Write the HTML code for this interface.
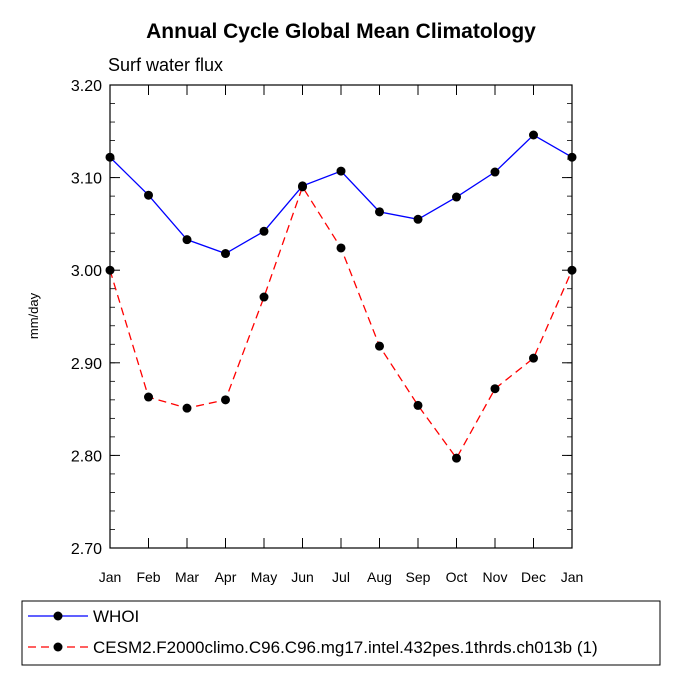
<!DOCTYPE html>
<html><head><meta charset="utf-8"><style>
body{margin:0;background:#fff}
svg{display:block;font-family:"Liberation Sans",Arial,sans-serif}
</style></head><body>
<svg id="chart" width="682" height="682" viewBox="0 0 682 682">
<text x="341" y="38" text-anchor="middle" font-size="21" font-weight="bold">Annual Cycle Global Mean Climatology</text>
<text x="108" y="71" font-size="18">Surf water flux</text>
<text transform="translate(38,316) rotate(-90)" text-anchor="middle" font-size="13">mm/day</text>
<g id="axes"></g>
<g id="series"></g>
<rect x="22" y="601" width="638" height="64" fill="none" stroke="#000" stroke-width="1"/>
<g>
<line x1="28" y1="616" x2="88" y2="616" stroke="#0000ff" stroke-width="1.3"/>
<circle cx="58" cy="616" r="4.5" fill="#000"/>
<text x="93" y="622" font-size="17">WHOI</text>
</g>
<g>
<line x1="28" y1="647" x2="88" y2="647" stroke="#ff0000" stroke-width="1.3" stroke-dasharray="8,5"/>
<circle cx="58" cy="647" r="4.5" fill="#000"/>
<text x="93" y="653" font-size="17">CESM2.F2000climo.C96.C96.mg17.intel.432pes.1thrds.ch013b (1)</text>
</g>
</svg>
<script>
const months = ["Jan","Feb","Mar","Apr","May","Jun","Jul","Aug","Sep","Oct","Nov","Dec","Jan"];
const whoi = [3.122,3.081,3.033,3.018,3.042,3.091,3.107,3.063,3.055,3.079,3.106,3.146,3.122];
const cesm = [3.000,2.863,2.851,2.860,2.971,3.090,3.024,2.918,2.854,2.797,2.872,2.905,3.000];
const yTicks = [2.70,2.80,2.90,3.00,3.10,3.20];
const yTickLabels = ["2.70","2.80","2.90","3.00","3.10","3.20"];

const NS="http://www.w3.org/2000/svg";
const L=110,R=572,T=85,B=548,yMin=2.70,yMax=3.20;
function xs(i){return L+(R-L)*i/(months.length-1);}
function ys(v){return B-(v-yMin)/(yMax-yMin)*(B-T);}
function mk(tag,attrs,parent){const e=document.createElementNS(NS,tag);for(const k in attrs)e.setAttribute(k,attrs[k]);parent.appendChild(e);return e;}
const ax=document.getElementById('axes');
const frame=mk('rect',{x:L,y:T,width:R-L,height:B-T,fill:'none',stroke:'#000','stroke-width':1.2},ax);


// y minor ticks
for(let v=yMin;v<=yMax+1e-9;v+=0.02){
  const y=ys(v);
  mk('line',{x1:L,x2:L+5,y1:y,y2:y,stroke:'#000','stroke-width':0.8},ax);
  mk('line',{x1:R-5,x2:R,y1:y,y2:y,stroke:'#000','stroke-width':0.8},ax);
}
yTicks.forEach((v,i)=>{
  const y=ys(v);
  mk('line',{x1:L,x2:L+10,y1:y,y2:y,stroke:'#000','stroke-width':1},ax);
  mk('line',{x1:R-10,x2:R,y1:y,y2:y,stroke:'#000','stroke-width':1},ax);
  const t=mk('text',{x:L-8,y:y+6,'text-anchor':'end','font-size':16},ax);
  t.textContent=yTickLabels[i];
  
  
});
months.forEach((m,i)=>{
  const x=xs(i);
  mk('line',{x1:x,x2:x,y1:B,y2:B-10,stroke:'#000','stroke-width':1},ax);
  mk('line',{x1:x,x2:x,y1:T,y2:T+10,stroke:'#000','stroke-width':1},ax);
  const t=mk('text',{x:x,y:B+34,'text-anchor':'middle','font-size':14},ax);
  t.textContent=m;
  
  
});
const sg=document.getElementById('series');
function draw(data,color,dash,name){
  const g=mk('g',{},sg);
  
  
  const pts=data.map((v,i)=>xs(i)+','+ys(v)).join(' ');
  const a={points:pts,fill:'none',stroke:color,'stroke-width':1.3};
  if(dash)a['stroke-dasharray']=dash;
  mk('polyline',a,g);
  data.forEach((v,i)=>{
    const c=mk('circle',{cx:xs(i),cy:ys(v),r:4.5,fill:'#000'},g);
    
    
  });
}
draw(whoi,'#0000ff',null,'whoi-series');
draw(cesm,'#ff0000','8,5','cesm2-series');
</script>
</body></html>
